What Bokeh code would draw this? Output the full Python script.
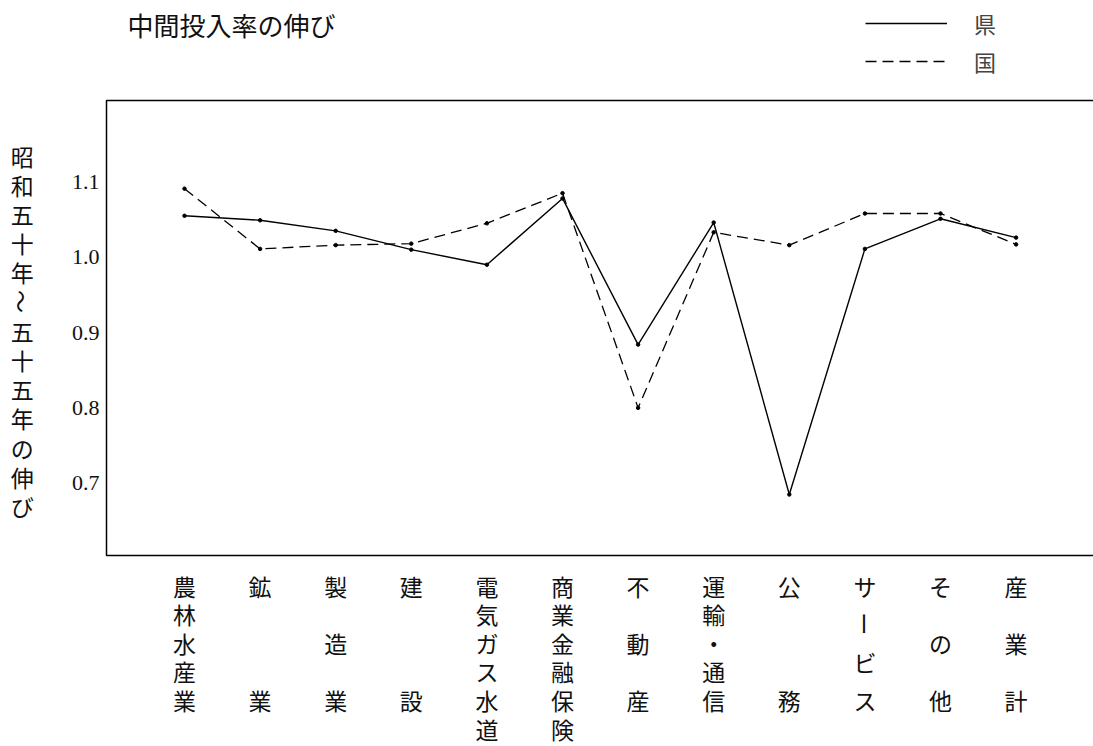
import math
from bokeh.plotting import figure
from bokeh.models import Range1d, Legend, LegendItem, ColumnDataSource
from bokeh.core.properties import value
from bokeh.embed import file_html
from bokeh.resources import INLINE

# ---- data ----
categories = ["農林水産業", "鉱業", "製造業", "建設", "電気ガス水道", "商業金融保険",
              "不動産", "運輸・通信", "公務", "サービス", "その他", "産業計"]
ken = [1.055, 1.049, 1.035, 1.010, 0.990, 1.078, 0.884, 1.046, 0.685, 1.011, 1.051, 1.026]
kuni = [1.091, 1.011, 1.016, 1.018, 1.045, 1.085, 0.800, 1.033, 1.016, 1.058, 1.058, 1.017]
y_ticks = [0.7, 0.8, 0.9, 1.0, 1.1]
y_tick_labels = ["0.7", "0.8", "0.9", "1.0", "1.1"]
y_title = "昭和五十年～五十五年の伸び"
chart_title = "中間投入率の伸び"
legend_labels = ["県", "国"]

CJK = "Noto Sans CJK JP"
NUM = "Liberation Serif"

# ---- geometry: the frame fills the whole canvas (page has no margin) ----
W, H = 1093, 746
X0_PX, XSTEP = 184.0, 75.6       # px of first category, px per category
Y1_PX, YSCALE = 256.7, 753.3     # px of value 1.0, px per unit
XMIN, XMAX = -X0_PX / XSTEP, (W - X0_PX) / XSTEP
YMAX, YMIN = 1.0 + Y1_PX / YSCALE, 1.0 - (H - Y1_PX) / YSCALE


def dx(px):
    return (px - X0_PX) / XSTEP


def dy(py):
    return 1.0 - (py - Y1_PX) / YSCALE


p = figure(width=W, height=H, x_range=Range1d(XMIN, XMAX), y_range=Range1d(YMIN, YMAX),
           output_backend="svg", toolbar_location=None,
           min_border=0, min_border_left=0, min_border_right=0,
           min_border_top=0, min_border_bottom=0)
p.background_fill_color = "white"
p.border_fill_color = "white"
p.grid.visible = False
p.axis.visible = False
p.outline_line_color = None

# plot box (open on the right, like the scanned original)
BL, BT, BB = dx(106), dy(100), dy(555)
BR = XMAX + 1
p.line([BR, BL, BL, BR], [BT, BT, BB, BB], line_color="black", line_width=1.5)

# y tick labels
p.text(x=[dx(99)] * len(y_ticks), y=y_ticks, text=y_tick_labels,
       text_font=value(NUM), text_font_size="22px", text_align="right",
       text_baseline="middle", text_color="#111111")

xs = list(range(len(categories)))
r1 = p.line(xs, ken, line_color="black", line_width=1.4)
r2 = p.line(xs, kuni, line_color="black", line_width=1.3, line_dash="11 6")
p.scatter(xs, ken, size=3.5, color="black")
p.scatter(xs, kuni, size=3.5, color="black")

# legend (top right); tuple location = bottom-left corner, y measured upward
legend = Legend(items=[LegendItem(label=legend_labels[0], renderers=[r1]),
                       LegendItem(label=legend_labels[1], renderers=[r2])],
                location=(865, H - 77), orientation="vertical")
legend.label_text_font = CJK
legend.label_text_font_size = "22px"
legend.glyph_width = 82
legend.glyph_height = 24
legend.label_height = 24
legend.label_standoff = 27
legend.spacing = 6
legend.padding = 0
legend.margin = 0
legend.border_line_color = None
legend.background_fill_alpha = 0
p.add_layout(legend)

# title (top left)
p.text(x=[dx(127)], y=[dy(24)], text=[chart_title], text_font=value(CJK),
       text_font_size="26px", text_align="left", text_baseline="middle",
       text_color="#111111")

ROT = {"ー", "～"}

# vertical y-axis title
tx, ty, tt, ta = [], [], [], []
for k, ch in enumerate(y_title):
    tx.append(dx(21.7))
    ty.append(dy(155 + 29.2 * k))
    tt.append(ch)
    ta.append(-math.pi / 2 if ch in ROT else 0.0)

# vertical category labels
ROW0, ROWSP = 585, 28.6
for i, cat in enumerate(categories):
    n = len(cat)
    for k, ch in enumerate(cat):
        if n == 1:
            r = 0
        elif n <= 5:
            r = k * 4 / (n - 1)
        else:
            r = k
        tx.append(i)
        ty.append(dy(ROW0 + ROWSP * r))
        tt.append(ch)
        ta.append(-math.pi / 2 if ch in ROT else 0.0)

src = ColumnDataSource(dict(x=tx, y=ty, text=tt, angle=ta))
p.text(x="x", y="y", text="text", angle="angle", source=src, text_font=value(CJK),
       text_font_size="23px", text_align="center", text_baseline="middle",
       text_color="#111111")

open("out.html", "w").write(file_html(p, INLINE))
